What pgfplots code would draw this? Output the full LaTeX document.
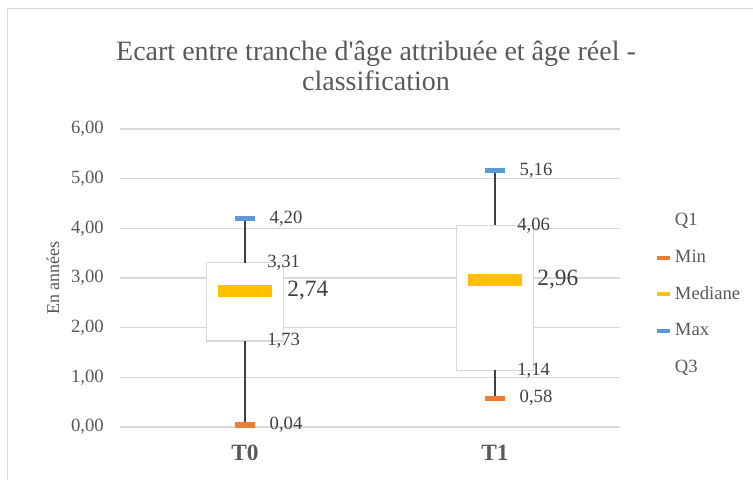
\documentclass[border=0pt]{standalone}
\usepackage{fontspec}
\setmainfont{Liberation Serif}
\usepackage{pgfplots}
\pgfplotsset{compat=1.18}

\definecolor{txt}{HTML}{595959}
\definecolor{lbl}{HTML}{404040}
\definecolor{grd}{HTML}{D9D9D9}
\definecolor{cmin}{HTML}{ED7D31}
\definecolor{cmed}{HTML}{FFC000}
\definecolor{cmax}{HTML}{5B9BD5}

% legend image: short thick dash, or nothing of the same width
\pgfplotsset{
  dash legend/.style={legend image code/.code={\draw[#1, line width=3pt] (0pt,0pt) -- (9.75pt,0pt);}},
  blank legend/.style={legend image code/.code={\path[draw=none, fill=none] (0pt,0pt) -- (9.75pt,0pt);}},
  lab/.style={nodes near coords, every node near coord/.append style={anchor=west, inner sep=0pt, xshift=#1, font=\fontsize{14}{16}\selectfont, text=lbl}},
  box/.style={forget plot, draw=grd, fill=white, line width=1.1pt, mark=none},
}

\begin{document}
\begin{tikzpicture}
\useasboundingbox (-90pt,-39.75pt) rectangle (474.75pt,320.25pt);
\draw[grd, line width=0.75pt] (-84pt,-39.75pt) -- (-84pt,314.25pt) -- (474.75pt,314.25pt);

\begin{axis}[
  scale only axis, width=375pt, height=223.5pt,
  xmin=-0.5, xmax=1.5, ymin=0, ymax=6,
  xtick={0,1}, xticklabels={T0,T1},
  ytick={0,1,2,3,4,5,6},
  major tick length=0pt,
  axis line style={draw=none},
  ymajorgrids, grid style={grd, line width=1pt},
  /pgf/number format/use comma,
  /pgf/number format/fixed,
  /pgf/number format/fixed zerofill,
  /pgf/number format/precision=2,
  /pgf/number format/assume math mode=true,
  yticklabel style={anchor=east, inner sep=0pt, xshift=-12pt, font=\fontsize{14}{16}\selectfont, text=txt},
  xticklabel style={anchor=north, inner sep=0pt, yshift=-13.5pt, font=\fontsize{17.5}{20}\selectfont\bfseries, text=txt},
  ylabel={En années},
  ylabel style={at={(axis description cs:-0.134,0.5)}, anchor=center, font=\fontsize{13.5}{16}\selectfont, text=txt},
  legend style={at={(1.07,0.445)}, anchor=west, draw=none, fill=none, inner sep=0pt,
    font=\fontsize{14}{16}\selectfont, text=txt, row sep=11.4pt,
    nodes={inner sep=2pt, text height=9.5pt, text depth=2.5pt}},
  legend cell align=left,
]
% boxes Q1..Q3 (width 0.31)
\addplot[box] coordinates {(-0.155,1.73) (0.155,1.73) (0.155,3.31) (-0.155,3.31)} -- cycle;
\addplot[box] coordinates {(0.845,1.14) (1.155,1.14) (1.155,4.06) (0.845,4.06)} -- cycle;
% whiskers
\addplot[forget plot, lbl, line width=1.1pt, mark=none, unbounded coords=jump] coordinates {
  (0,0.04) (0,1.73) (0,nan) (0,3.31) (0,4.20) (0,nan)
  (1,0.58) (1,1.14) (1,nan) (1,4.06) (1,5.16)};

% Q1
\addplot[only marks, mark=*, mark size=0pt, mark options={draw=none, fill=none},
  blank legend, lab=16.5pt] coordinates {(0,1.73) (1,1.14)};
\addlegendentry{Q1}
% Min
\addplot[only marks, mark=-, mark size=7.5pt, mark options={draw=cmin, line width=4pt},
  dash legend=cmin, lab=16.5pt] coordinates {(0,0.04) (1,0.58)};
\addlegendentry{Min}
% Mediane
\addplot[only marks, mark=-, mark size=20.6pt, mark options={draw=cmed, line width=8.5pt},
  dash legend=cmed, nodes near coords,
  every node near coord/.append style={anchor=west, inner sep=0pt, xshift=27.5pt, font=\fontsize{17.5}{20}\selectfont, text=lbl}]
  coordinates {(0,2.74) (1,2.96)};
\addlegendentry{Mediane}
% Max
\addplot[only marks, mark=-, mark size=7.5pt, mark options={draw=cmax, line width=4pt},
  dash legend=cmax, lab=16.5pt] coordinates {(0,4.20) (1,5.16)};
\addlegendentry{Max}
% Q3
\addplot[only marks, mark=*, mark size=0pt, mark options={draw=none, fill=none},
  blank legend, lab=16.5pt] coordinates {(0,3.31) (1,4.06)};
\addlegendentry{Q3}
\end{axis}

\node[anchor=base, text=txt, font=\fontsize{21}{24}\selectfont] at (192pt,275.25pt) {Ecart entre tranche d\textquotesingle âge attribuée et âge réel -};
\node[anchor=base, text=txt, font=\fontsize{21}{24}\selectfont] at (192pt,252.75pt) {classification};
\end{tikzpicture}
\end{document}
